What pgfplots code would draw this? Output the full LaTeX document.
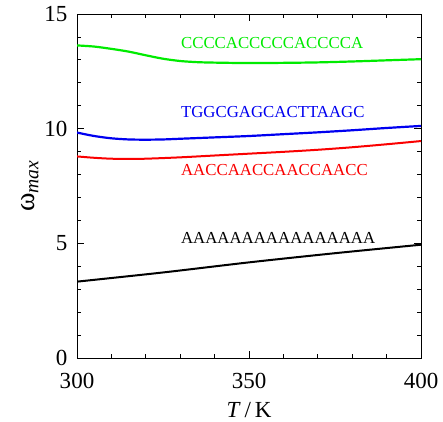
\documentclass[border=0pt]{standalone}
\usepackage{fontspec}
\setmainfont{Liberation Serif}
\usepackage{xcolor}
\usepackage{pgfplots}
\pgfplotsset{compat=1.18}
\definecolor{seqGreen}{RGB}{0,235,0}
\definecolor{seqBlue}{RGB}{0,0,240}
\definecolor{seqRed}{RGB}{250,0,0}
\tikzset{seqlabel/.style={anchor=west, inner sep=0pt, font=\fontsize{16.8}{18}\selectfont}}
\begin{document}
\begin{tikzpicture}
\begin{axis}[
  at={(0pt,0pt)}, anchor=south west,
  scale only axis,
  width=344pt, height=344pt,
  xmin=300, xmax=400, ymin=0, ymax=15,
  xtick={300,350,400}, ytick={0,5,10,15},
  minor x tick num=4, minor y tick num=4,
  major tick length=7pt, minor tick length=4pt,
  tick align=inside,
  tick style={black, line width=0.8pt},
  axis line style={line width=0.9pt},
  /pgf/number format/assume math mode=true,
  /pgf/number format/1000 sep={},
  tick label style={font=\fontsize{23}{26}\selectfont},
  xticklabel style={yshift=-12pt},
  yticklabel style={xshift=-6pt},
  xlabel={\textit{T}\,/\,K},
  ylabel={ω\textsubscript{\itshape max}},
  xlabel style={font=\fontsize{23}{26}\selectfont, yshift=-6pt},
  ylabel style={font=\fontsize{28}{30}\selectfont, yshift=-1pt},
]
\addplot[seqGreen, line width=2.2pt, smooth] coordinates {
  (300,13.63) (305,13.58) (310,13.48) (315,13.36) (320,13.20) (325,13.05)
  (330,12.95) (335,12.90) (340,12.88) (350,12.86) (360,12.87) (370,12.89)
  (380,12.93) (390,12.98) (400,13.03)};
\addplot[seqBlue, line width=2.2pt, smooth] coordinates {
  (300,9.83) (305,9.68) (310,9.58) (315,9.53) (320,9.52) (325,9.53)
  (330,9.56) (340,9.62) (350,9.68) (360,9.76) (370,9.84) (380,9.93)
  (390,10.03) (400,10.12)};
\addplot[seqRed, line width=2pt, smooth] coordinates {
  (300,8.79) (305,8.73) (310,8.69) (315,8.68) (320,8.69) (330,8.75)
  (340,8.83) (350,8.91) (360,8.99) (370,9.08) (380,9.19) (390,9.32)
  (400,9.46)};
\addplot[black, line width=2pt, smooth] coordinates {
  (300,3.33) (325,3.73) (350,4.17) (375,4.57) (400,4.94)};
\node[seqlabel, text=seqGreen] at (axis cs:330.2,13.72) {CCCCACCCCCACCCCA};
\node[seqlabel, text=seqBlue] at (axis cs:330.2,10.73) {TGGCGAGCACTTAAGC};
\node[seqlabel, text=seqRed] at (axis cs:330.2,8.20) {AACCAACCAACCAACC};
\node[seqlabel, text=black] at (axis cs:330.2,5.22) {AAAAAAAAAAAAAAAA};
\end{axis}
\path (-77pt,-63pt) rectangle (366pt,358pt);
\end{tikzpicture}
\end{document}
